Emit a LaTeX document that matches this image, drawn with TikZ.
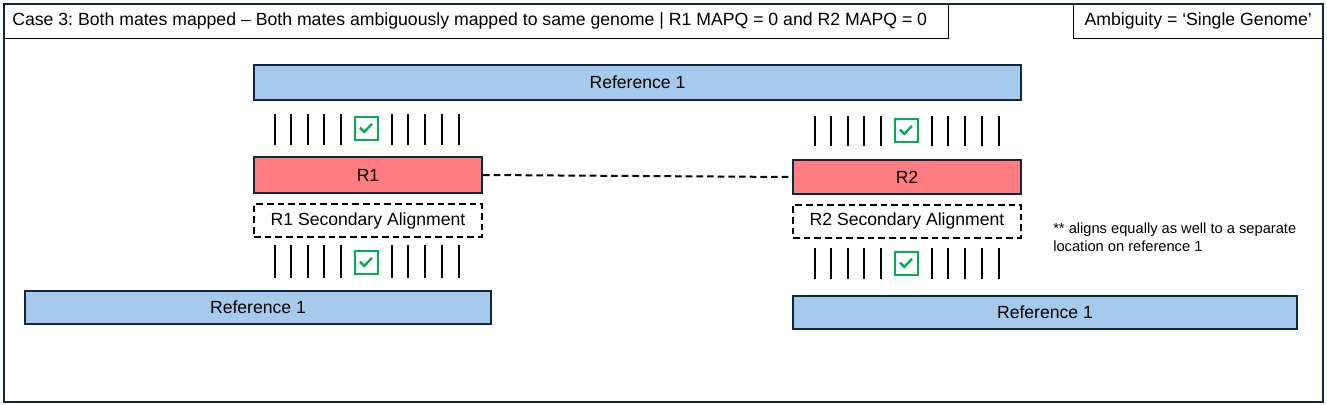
\documentclass[tikz,border=0pt]{standalone}
\usepackage{fontspec}
\setmainfont{Liberation Sans}
\frenchspacing
\usetikzlibrary{positioning,calc}
\definecolor{refblue}{HTML}{A6CAEC}
\definecolor{readred}{HTML}{FF7C80}
\definecolor{edgeblue}{HTML}{0E2841}
\definecolor{okgreen}{HTML}{00B050}
\tikzstyle{line} = [line width=1.5pt]
\tikzstyle{refbar} = [line, draw=edgeblue, fill=refblue, inner sep=0pt, font=\fontsize{13.2}{15.8}\selectfont]
\tikzstyle{readbox} = [line, draw=edgeblue, fill=readred, inner sep=0pt, minimum width=171pt, font=\fontsize{13.2}{15.8}\selectfont]
\tikzstyle{secbox} = [line, draw=black, dashed, dash pattern=on 5pt off 3pt, inner sep=0pt, minimum width=171pt, minimum height=24.75pt, font=\fontsize{13.2}{15.8}\selectfont]
\tikzstyle{tick} = [line, black]
\tikzstyle{chkbox} = [line, draw=okgreen, minimum size=17.25pt, inner sep=0pt,
	path picture={\draw[okgreen, line width=1.8pt]
		($(path picture bounding box.center)+(-4.5pt,0.3pt)$) -- ++(3.2pt,-3.2pt) -- ++(5.8pt,6pt);}]
\tikzstyle{hdrbox} = [draw=black, thin, inner sep=0pt, minimum height=25.5pt, font=\fontsize{13.25}{15.9}\selectfont]

\begin{document}
\begin{tikzpicture}[x=0.75pt,y=-0.75pt]
		\useasboundingbox (0,0) rectangle (1327,404);
		% header
		\node[hdrbox, anchor=north west, minimum width=708pt] (title) at (4,4)
			{\makebox[696pt][l]{Case 3: Both mates mapped -- Both mates ambiguously mapped to same genome | R1 MAPQ = 0 and R2 MAPQ = 0}};
		\node[hdrbox, anchor=north east, minimum width=186.75pt] (ambig) at (1323,4)
			{Ambiguity = ‘Single Genome’};
		% reference bars
		\node[refbar, minimum width=575.25pt, minimum height=26.25pt] (reftop) at (637.5,82.5) {Reference 1};
		\node[refbar, minimum width=349.5pt, minimum height=24.75pt] (refleft) at (258,307.5) {Reference 1};
		\node[refbar, minimum width=378pt, minimum height=24.75pt] (refright) at (1045,312.5) {Reference 1};
		% reads
		\node[readbox, minimum height=27pt] (rone) at (368,175) {R1};
		\node[readbox, minimum height=25.5pt] (rtwo) at (907,177) {R2};
		\node[secbox] (ronesec) at (368,220.5) {R1 Secondary Alignment};
		\node[secbox] (rtwosec) at (907,221) {R2 Secondary Alignment};
		\draw[line, dashed, dash pattern=on 5pt off 3pt] (rone.east) -- (rtwo.west);
		% alignment ticks
		\foreach \dx/\ya/\yb in {0/114/145, 0/245/278, 540/116/146, 540/248/279}
			\foreach \x in {275,291,308,324,341,392,408,425,442,459}
				\draw[tick] (\x+\dx,\ya) -- (\x+\dx,\yb);
		\node[chkbox] (chkone) at (366,128) {};
		\node[chkbox] (chkonesec) at (366,262) {};
		\node[chkbox] (chktwo) at (906,130) {};
		\node[chkbox] (chktwosec) at (906,263) {};
		% note
		\node[anchor=north west, align=left, inner sep=0pt, font=\fontsize{11}{13.5}\selectfont] (note) at (1053,223)
			{** aligns equally as well to a separate\\location on reference 1};
		% frame
		\draw[line, edgeblue] (4,4) rectangle (1323,402);
	\end{tikzpicture}
\end{document}
